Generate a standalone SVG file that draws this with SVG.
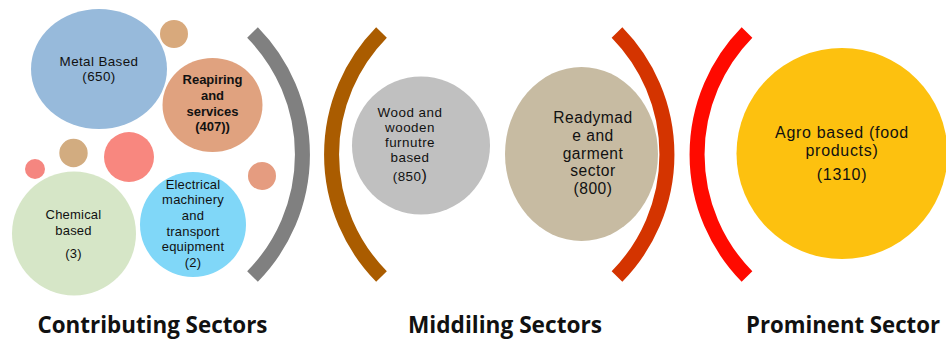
<svg xmlns="http://www.w3.org/2000/svg" width="946" height="339" viewBox="0 0 946 339">
  <style>
    text { font-family: "Liberation Sans", Arial, sans-serif; fill: #111; text-anchor: middle; }
    .t13 { font-size: 13px; letter-spacing: 0.2px; }
    .tw { font-size: 13.4px; letter-spacing: 0.5px; }
    .tm { font-size: 13.4px; letter-spacing: 0.4px; }
    .t15 { font-size: 15.6px; letter-spacing: 0.5px; }
    .t16 { font-size: 16px; letter-spacing: 0.7px; }
    .b { font-weight: bold; letter-spacing: 0; }
    .sector { font-family: "Open Sans", "Noto Sans", sans-serif; font-size: 22.5px; font-weight: bold; text-anchor: start; }
    .arc { fill: none; stroke-width: 15; stroke-linecap: butt; }
  </style>

  <!-- bracket arcs -->
  <g id="connectors">
    <path class="arc" stroke="#808080" d="M 252.5 32.5 A 174 174 0 0 1 252.5 276.5"/>
    <path class="arc" stroke="#AA5C00" d="M 381.5 32.5 A 174 174 0 0 0 381.5 276.5"/>
    <path class="arc" stroke="#D43400" d="M 617 32.5 A 174 174 0 0 1 617 276.5"/>
    <path class="arc" stroke="#FF0A00" d="M 747 32.5 A 174 174 0 0 0 747 276.5"/>
  </g>

  <!-- decorative bubbles -->
  <g id="bubbles">
    <circle cx="174" cy="34" r="14" fill="#D8A97C"/>
    <circle cx="73.5" cy="153" r="14.2" fill="#D2AC80"/>
    <circle cx="129" cy="157" r="25" fill="#F8877F"/>
    <circle cx="35" cy="169" r="10" fill="#F58680"/>
    <circle cx="262" cy="176" r="14" fill="#E59C80"/>
  </g>

  <g id="metal">
    <ellipse cx="99" cy="69" rx="68" ry="60" fill="#97BADB"/>
    <text class="tm" x="99" y="66">Metal Based<tspan x="99" dy="15.2">(650)</tspan></text>
  </g>

  <g id="repairing">
    <ellipse cx="212.5" cy="105" rx="50" ry="47" fill="#E0A27F"/>
    <text class="t13 b" x="212.5" y="84">Reapiring<tspan x="212.5" dy="16">and</tspan><tspan x="212.5" dy="15.5">services</tspan><tspan x="212.5" dy="15.5">(407))</tspan></text>
  </g>

  <g id="chemical">
    <circle cx="74" cy="233.5" r="62" fill="#D6E6C7"/>
    <text class="t13" x="73.5" y="219">Chemical<tspan x="73.5" dy="15.5">based</tspan><tspan x="73.5" dy="23">(3)</tspan></text>
  </g>

  <g id="electrical">
    <ellipse cx="193" cy="224.5" rx="53" ry="52.5" fill="#80D7F8"/>
    <text class="t13" x="193" y="189">Electrical<tspan x="193" dy="15">machinery</tspan><tspan x="193" dy="16">and</tspan><tspan x="193" dy="15.5">transport</tspan><tspan x="193" dy="15.5">equipment</tspan><tspan x="193" dy="16">(2)</tspan></text>
  </g>

  <g id="wood">
    <circle cx="421" cy="145.5" r="69" fill="#C0C0C0"/>
    <text class="tw" x="410" y="117">Wood and<tspan x="410" dy="15.1">wooden</tspan><tspan x="410" dy="15.1">furnutre</tspan><tspan x="410" dy="15.1">based</tspan><tspan x="410" dy="18.5">(850<tspan font-size="16">)</tspan></tspan></text>
  </g>

  <g id="readymade">
    <ellipse cx="581.5" cy="154" rx="76.5" ry="87" fill="#C7BBA2"/>
    <text class="t15" x="593" y="123">Readymad<tspan x="593" dy="18">e and</tspan><tspan x="593" dy="17.5">garment</tspan><tspan x="593" dy="17.5">sector</tspan><tspan x="593" dy="17.5">(800)</tspan></text>
  </g>

  <g id="agro">
    <circle cx="842" cy="153.5" r="105.5" fill="#FDC10F"/>
    <text class="t16" x="842" y="138">Agro based (food<tspan x="842" dy="18.2">products)</tspan><tspan x="842" dy="24">(1310)</tspan></text>
  </g>

  <g id="sector-labels">
    <text class="sector" x="37.5" y="333" textLength="230" lengthAdjust="spacingAndGlyphs">Contributing Sectors</text>
    <text class="sector" x="408" y="333" textLength="194" lengthAdjust="spacingAndGlyphs">Middiling Sectors</text>
    <text class="sector" x="746" y="333" textLength="194" lengthAdjust="spacingAndGlyphs">Prominent Sector</text>
  </g>
</svg>
